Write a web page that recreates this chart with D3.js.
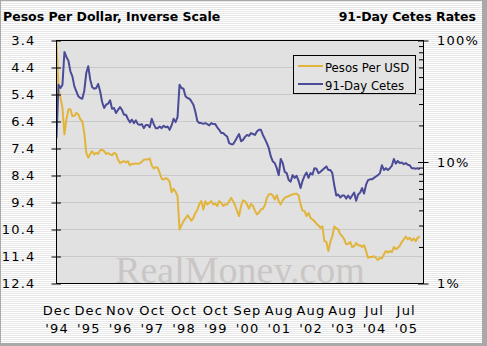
<!DOCTYPE html>
<html>
<head>
<meta charset="utf-8">
<script src="https://cdn.jsdelivr.net/npm/d3@7"></script>
<style>
  html, body { margin: 0; padding: 0; background: #fff; }
  svg { display: block; }
</style>
</head>
<body>
<svg id="chart" width="487" height="346"></svg>
<script>
// Pesos per US dollar, sampled every 1/16 of a label interval
const pesoPerUSD = [
  3.45, 5.15, 5.52, 5.89, 6.88, 6.32, 5.95, 5.95, 6.20, 6.20,
  6.08, 6.14, 6.32, 6.39, 6.82, 7.56, 7.74, 7.60, 7.50, 7.62,
  7.56, 7.60, 7.46, 7.45, 7.50, 7.60, 7.57, 7.62, 7.65, 7.56,
  7.60, 7.81, 7.94, 7.90, 7.87, 7.92, 7.87, 8.02, 7.97, 7.97,
  7.95, 7.97, 7.95, 7.89, 7.82, 7.81, 7.81, 7.77, 8.03, 8.14,
  8.09, 8.11, 8.30, 8.52, 8.55, 8.50, 8.53, 8.63, 9.02, 8.89,
  9.00, 9.16, 10.40, 10.24, 10.09, 9.99, 9.87, 9.97, 10.07, 9.97,
  9.78, 9.67, 9.45, 9.35, 9.66, 9.35, 9.47, 9.41, 9.35, 9.47,
  9.44, 9.53, 9.35, 9.41, 9.53, 9.47, 9.47, 9.35, 9.23, 9.35,
  9.51, 9.72, 9.90, 9.53, 9.32, 9.35, 9.47, 9.63, 9.45, 9.53,
  9.70, 9.84, 9.78, 9.66, 9.63, 9.50, 9.23, 9.10, 9.08, 9.14,
  9.29, 9.13, 9.35, 9.47, 9.32, 9.23, 9.19, 9.16, 9.13, 9.10,
  9.08, 9.08, 9.13, 9.47, 9.70, 9.72, 9.90, 9.78, 9.97, 10.03,
  10.09, 10.19, 10.25, 10.34, 10.28, 10.83, 10.86, 11.20, 10.86, 10.65,
  10.29, 10.36, 10.40, 10.58, 10.65, 10.77, 10.95, 10.93, 10.86, 11.05,
  11.02, 10.90, 10.99, 10.98, 11.05, 10.98, 11.20, 11.45, 11.42, 11.42,
  11.39, 11.45, 11.53, 11.45, 11.47, 11.32, 11.20, 11.25, 11.20, 11.24,
  11.05, 11.13, 11.08, 11.00, 10.86, 10.77, 10.66, 10.76, 10.71, 10.81,
  10.73, 10.83, 10.71, 10.65
];

// 91-day Cetes rate, percent, same sampling
const cetes91 = [
  15.7, 43.3, 40.6, 43.3, 80.5, 73.2, 68.3, 55.8, 50.7, 41.9,
  38.1, 34.7, 33.6, 33.2, 38.6, 54.0, 61.3, 47.6, 41.2, 40.1,
  40.6, 43.9, 38.1, 31.2, 27.8, 29.6, 30.2, 32.2, 27.4, 27.8,
  25.3, 26.9, 28.3, 26.9, 24.5, 24.5, 22.6, 21.2, 22.3, 20.9,
  22.0, 20.5, 20.2, 20.5, 19.0, 20.2, 20.2, 19.3, 22.7, 20.5,
  19.0, 19.0, 19.6, 19.0, 19.9, 19.3, 19.6, 18.4, 20.0, 22.7,
  21.3, 23.4, 43.3, 40.6, 40.1, 34.7, 33.6, 33.2, 31.5, 29.6,
  25.8, 21.6, 20.9, 20.9, 20.6, 20.9, 20.5, 20.0, 20.9, 20.5,
  20.5, 19.3, 18.4, 17.3, 17.3, 16.7, 16.2, 14.3, 14.0, 14.0,
  14.9, 15.9, 17.0, 14.8, 15.2, 16.1, 16.7, 16.4, 17.3, 17.0,
  16.7, 17.8, 18.4, 18.4, 16.7, 15.5, 14.3, 13.0, 11.1, 10.1,
  9.8, 8.9, 7.8, 10.6, 9.8, 8.3, 8.1, 7.1, 6.9, 7.8,
  7.4, 7.7, 7.0, 6.1, 7.0, 7.7, 8.2, 7.4, 8.1, 7.9,
  8.9, 8.8, 8.1, 8.3, 8.6, 8.9, 9.2, 8.6, 8.6, 8.1,
  6.4, 5.3, 5.4, 5.1, 5.3, 5.3, 5.0, 5.3, 5.0, 5.3,
  5.6, 4.8, 5.4, 5.6, 6.1, 5.5, 6.5, 7.1, 7.2, 7.2,
  7.4, 7.6, 7.8, 8.1, 9.4, 8.6, 8.9, 8.6, 8.9, 9.3,
  10.6, 9.7, 10.2, 9.8, 9.9, 9.6, 9.8, 9.5, 9.4, 8.9,
  8.9, 8.8, 8.9, 8.7
];

const monthLabels = ["Dec", "Dec", "Nov", "Oct", "Oct", "Oct", "Sep", "Aug", "Aug", "Aug", "Jul", "Jul"];
const yearLabels = ["'94", "'95", "'96", "'97", "'98", "'99", "'00", "'01", "'02", "'03", "'04", "'05"];
const pesoTicks = [3.4, 4.4, 5.4, 6.4, 7.4, 8.4, 9.4, 10.4, 11.4, 12.4];
const rateMajorTicks = [1, 10, 100];
const rateMinorTicks = [2, 3, 4, 5, 6, 7, 8, 9, 20, 30, 40, 50, 60, 70, 80, 90];
const seriesNames = ["Pesos Per USD", "91-Day Cetes"];
const pointsPerLabel = 16;

const W = 487, H = 346;
const plot = { left: 56.5, right: 423.5, top: 40.5, bottom: 283.5 };
const pesoColor = "#e1b43c";
const cetesColor = "#4b4b97";
const axisFont = "DejaVu Sans";

const svg = d3.select("#chart");
const defs = svg.append("defs");

// pinstripe page background
const pin = defs.append("pattern").attr("id", "pin")
  .attr("width", 4).attr("height", 2).attr("patternUnits", "userSpaceOnUse");
pin.append("rect").attr("width", 4).attr("height", 2).attr("fill", "#ffffff");
pin.append("rect").attr("y", 1).attr("width", 4).attr("height", 1).attr("fill", "#e7e7e7");

defs.append("clipPath").attr("id", "plotClip").append("rect")
  .attr("x", plot.left).attr("y", plot.top)
  .attr("width", plot.right - plot.left).attr("height", plot.bottom - plot.top);

// frame with shadow on right and bottom
svg.append("rect").attr("width", W).attr("height", H).attr("fill", "#a9a9a9");
svg.append("rect").attr("x", 1).attr("y", 1).attr("width", 481).attr("height", 342).attr("fill", "url(#pin)");

// titles
svg.append("text").attr("x", 3).attr("y", 21)
  .attr("font-family", axisFont).attr("font-weight", "bold").attr("font-size", 12.5)
  .attr("fill", "#000").text("Pesos Per Dollar, Inverse Scale");
svg.append("text").attr("x", 476).attr("y", 21).attr("text-anchor", "end")
  .attr("font-family", axisFont).attr("font-weight", "bold").attr("font-size", 12.5)
  .attr("fill", "#000").text("91-Day Cetes Rates");

// scales
const x = d3.scaleLinear().domain([0, 11]).range([56.5, 405.75]);
const yPeso = d3.scaleLinear().domain([3.4, 12.4]).range([plot.top, plot.bottom]);
const yRate = d3.scaleLog().domain([1, 100]).range([plot.bottom, plot.top]);

// plot area
svg.append("rect").attr("x", plot.left).attr("y", plot.top)
  .attr("width", plot.right - plot.left).attr("height", plot.bottom - plot.top)
  .attr("fill", "#e1e1e1");

// gridlines at the peso ticks
svg.append("g").selectAll("line")
  .data(pesoTicks.slice(1, -1))
  .join("line")
  .attr("x1", plot.left).attr("x2", plot.right)
  .attr("y1", d => yPeso(d)).attr("y2", d => yPeso(d))
  .attr("stroke", "#c9c9c9").attr("stroke-width", 1);

// watermark
svg.append("text")
  .attr("clip-path", "url(#plotClip)")
  .attr("x", (plot.left + plot.right) / 2).attr("y", plot.bottom - 1)
  .attr("text-anchor", "middle")
  .attr("font-family", "Liberation Serif").attr("font-size", 38)
  .attr("fill", "#cac6c6").text("RealMoney.com");

// series lines
const pesoLine = d3.line().x((d, i) => x(i / pointsPerLabel)).y(d => yPeso(d));
const rateLine = d3.line().x((d, i) => x(i / pointsPerLabel)).y(d => yRate(d));
const lines = svg.append("g").attr("clip-path", "url(#plotClip)");
lines.append("path").datum(pesoPerUSD).attr("d", pesoLine)
  .attr("fill", "none").attr("stroke", pesoColor).attr("stroke-width", 2).attr("stroke-linejoin", "round");
lines.append("path").datum(cetes91).attr("d", rateLine)
  .attr("fill", "none").attr("stroke", cetesColor).attr("stroke-width", 2).attr("stroke-linejoin", "round");

// plot frame
svg.append("rect").attr("x", plot.left).attr("y", plot.top)
  .attr("width", plot.right - plot.left).attr("height", plot.bottom - plot.top)
  .attr("fill", "none").attr("stroke", "#000").attr("stroke-width", 1);

function styleAxis(g) {
  g.select(".domain").remove();
  g.attr("font-family", axisFont).attr("font-size", 13);
  g.selectAll("text").attr("fill", "#000").attr("letter-spacing", "1.2px");
  g.selectAll(".tick line").attr("stroke", "#000");
}

// left axis (inverse peso scale)
const leftAxis = svg.append("g").attr("transform", `translate(${plot.left},0)`)
  .call(d3.axisLeft(yPeso).tickValues(pesoTicks).tickFormat(d3.format(".1f"))
    .tickSizeInner(5).tickSizeOuter(0).tickPadding(16))
  .call(styleAxis);
leftAxis.selectAll(".tick").append("line").attr("x2", 4.5).attr("stroke", "#000");

// right axis (log rate scale)
const rightAxis = svg.append("g").attr("transform", `translate(${plot.right},0)`)
  .call(d3.axisRight(yRate).tickValues(rateMajorTicks).tickFormat(d => d + "%")
    .tickSizeInner(5).tickSizeOuter(0).tickPadding(8.5))
  .call(styleAxis);
rightAxis.selectAll(".tick").append("line").attr("x2", -5.5).attr("stroke", "#000");
svg.append("g").attr("transform", `translate(${plot.right},0)`)
  .call(d3.axisRight(yRate).tickValues(rateMinorTicks).tickFormat("")
    .tickSizeInner(-4.5).tickSizeOuter(0))
  .call(styleAxis);

// bottom axis with two-line labels
const bottomAxis = svg.append("g").attr("transform", `translate(0,${plot.bottom})`)
  .call(d3.axisBottom(x).tickValues(d3.range(monthLabels.length)).tickFormat(i => monthLabels[i])
    .tickSize(0).tickSizeOuter(0))
  .call(styleAxis);
bottomAxis.selectAll(".tick line").remove();
bottomAxis.selectAll(".tick text").attr("y", 31.5).attr("dy", null);
bottomAxis.selectAll(".tick").append("text")
  .attr("y", 49.5).attr("fill", "#000").attr("letter-spacing", "1.2px")
  .text(i => yearLabels[i]);

// legend
const legend = svg.append("g");
legend.append("rect").attr("x", 293.5).attr("y", 55.5).attr("width", 122).attr("height", 38)
  .attr("fill", "#e3e3e3").attr("stroke", "#000").attr("stroke-width", 1);
const legendItems = [
  { name: seriesNames[0], color: pesoColor, y: 66 },
  { name: seriesNames[1], color: cetesColor, y: 84 }
];
legendItems.forEach(item => {
  legend.append("line").attr("x1", 298).attr("x2", 323).attr("y1", item.y).attr("y2", item.y)
    .attr("stroke", item.color).attr("stroke-width", 2);
  legend.append("text").attr("x", 325).attr("y", item.y + 5.5)
    .attr("font-family", "DejaVu Sans Condensed").attr("font-size", 13)
    .attr("fill", "#000").text(item.name);
});
</script>
</body>
</html>
